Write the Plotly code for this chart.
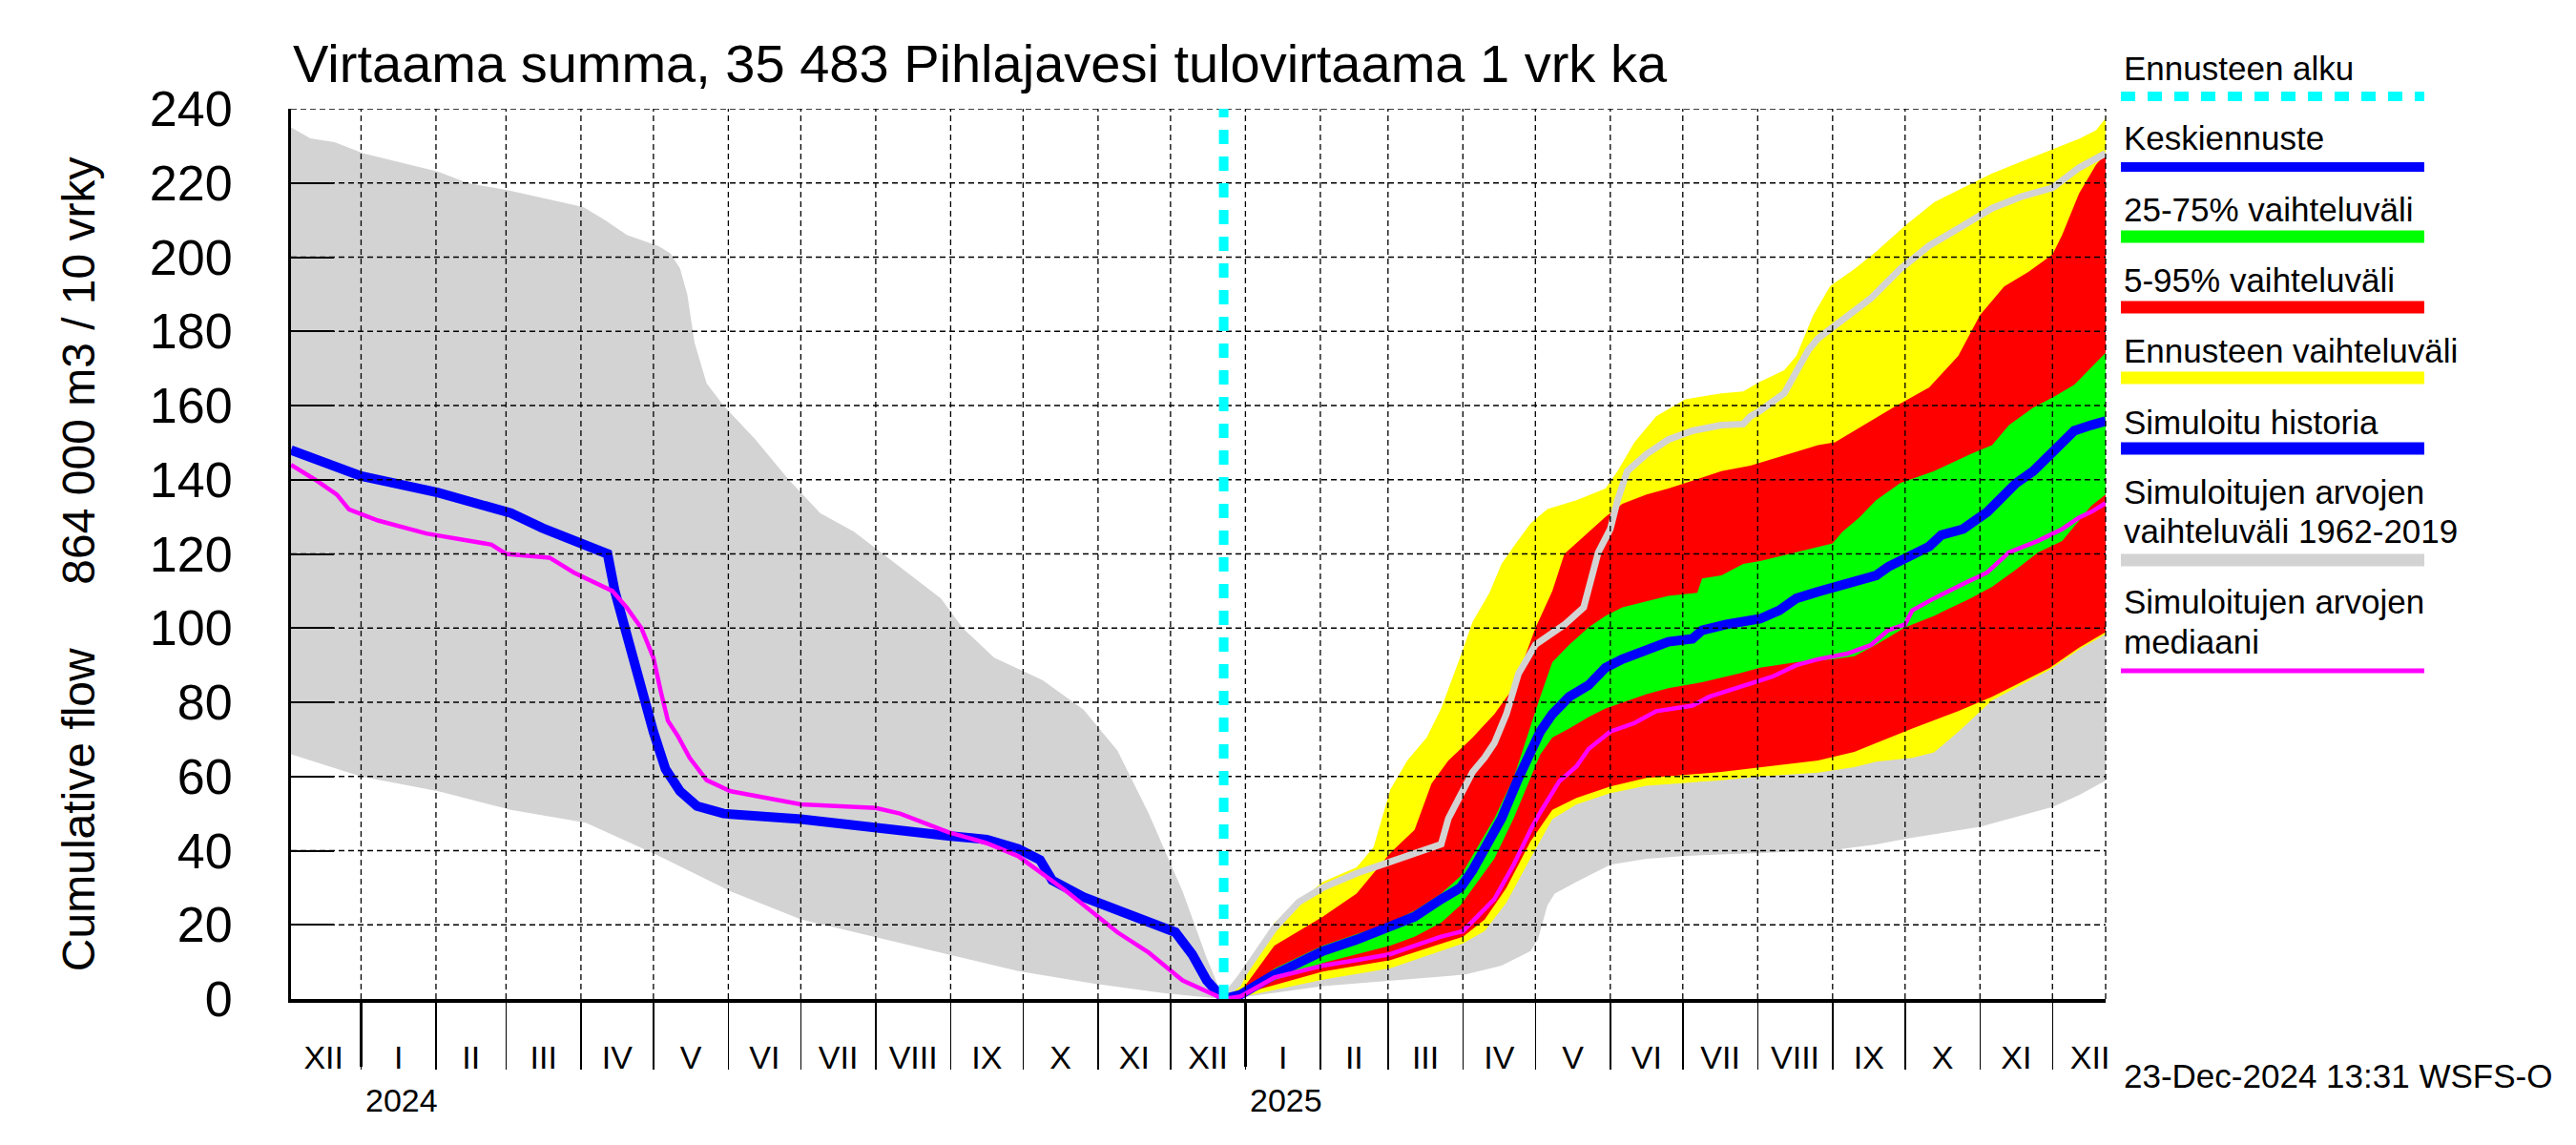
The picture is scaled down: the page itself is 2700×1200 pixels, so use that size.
import plotly.graph_objects as go
import pandas as pd

FORECAST_START = "2024-12-23"
X_START = "2023-12-03"
X_END = "2025-12-23"

TITLE = "Virtaama summa, 35 483 Pihlajavesi tulovirtaama 1 vrk ka"
Y_TITLE = "Cumulative flow" + "\u00a0" * 5 + "864 000 m3 / 10 vrky"
FOOTER = "23-Dec-2024 13:31 WSFS-O"

y_ticks = list(range(0, 241, 20))
roman = ["I", "II", "III", "IV", "V", "VI", "VII", "VIII", "IX", "X", "XI", "XII"]
year_labels = ["2024", "2025"]

# ---------- history (days relative to forecast start) ----------
hist_gray_upper_days = [-386, -378, -368, -356, -325, -313, -296, -265, -256, -247, -234, -229, -225, -222,
                        -219, -214, -207, -194, -180, -167, -153, -141, -117, -108, -95, -75, -58, -44, -31,
                        -17, -7, 0]
hist_gray_upper = [235, 232, 231, 228, 223, 220, 218, 213.5, 210, 206, 203, 201, 197, 190,
                   177, 166, 160, 151, 140, 131, 126, 120, 108, 100, 92, 86, 78, 67, 50,
                   29, 11, 0]

hist_gray_lower_days = [-386, -357, -325, -295, -264, -235, -204, -175, -144, -114, -85, -54, -25, 0]
hist_gray_lower = [66, 60, 56, 51, 47.5, 39, 29, 21.5, 16.5, 12, 7.5, 4.2, 1.6, 0]

hist_blue_days = [-386, -357, -325, -310, -295, -282, -270, -255, -252, -248, -244, -241, -236, -231, -225,
                  -218, -207, -175, -144, -114, -98, -85, -76, -71, -58, -37, -20, -13, -7, 0]
hist_blue = [148, 141, 136.5, 134, 131, 127, 124, 120, 110, 100, 92, 84, 72, 62, 56,
             52, 50, 48.5, 46, 44, 43, 40.5, 37.5, 32, 27.5, 22.5, 18, 12, 5, 0]

hist_mag_days = [-386, -376, -367, -362, -350, -330, -303, -297, -279, -269, -253, -247, -241, -236, -233,
                 -230, -226, -221, -214, -204, -175, -144, -134, -114, -98, -85, -65, -44, -31, -17, 0]
hist_mag = [144, 140, 136, 132, 129, 125.5, 122.5, 120, 119, 115, 110, 105.5, 100, 92, 83,
            75, 71, 65, 59, 56, 52.5, 51.5, 50, 45, 42, 38.5, 29, 18, 12.5, 5, 0]

# ---------- forecast ----------
fc_gray_upper_days = [0, 7, 21, 31, 41, 55, 69, 79, 90, 93, 98, 103, 108, 112, 117, 122, 129, 136, 141, 149,
                      151, 155, 160, 163, 167, 175, 184, 194, 206, 215, 218, 222, 232, 237, 242, 246, 256,
                      268, 280, 292, 306, 318, 330, 343, 354, 365]
fc_gray_upper = [0, 5.8, 19.1, 26.1, 30, 33.9, 37, 39.4, 41.7, 48.7, 55, 61.2, 65.1, 69, 76.8, 87.7, 95.5,
                 98.6, 100.9, 105.6, 111.1, 120.4, 126.7, 134.5, 142.3, 146.9, 150.8, 153.2, 154.7, 155,
                 157.1, 158.6, 163.3, 169.5, 175, 178.1, 182.8, 189, 196.8, 203.1, 208.5, 213.2, 216.3,
                 218.7, 224.1, 228]

fc_gray_lower_days = [0, 7, 41, 69, 100, 115, 127, 130, 134, 137, 146, 160, 175, 191, 222, 252, 270, 283,
                      313, 330, 343, 354, 365]
fc_gray_lower = [0, 0.4, 3.5, 5, 6.6, 9, 12.9, 16, 25.3, 28.4, 31.6, 36.2, 37.8, 38.6, 39.4, 40.1, 41.7,
                 43.3, 46.4, 49.5, 51.8, 55, 58.9]

fc_yellow_upper_days = [0, 7, 21, 41, 55, 62, 69, 76, 84, 90, 98, 103, 110, 115, 120, 127, 134, 146, 158,
                        163, 170, 179, 191, 206, 215, 222, 232, 237, 244, 251, 261, 270, 282, 294, 306,
                        318, 330, 342, 354, 361, 365]
fc_yellow_upper = [0, 3.5, 20.6, 31.6, 35.5, 40.9, 56.5, 64.3, 70.5, 78.3, 92.4, 101.7, 109.5, 117.3, 122,
                   128.2, 132.1, 134.5, 137.6, 142.3, 150.1, 157.1, 161.7, 163.3, 163.8, 166.4, 169.5,
                   173.4, 184.4, 192.2, 196.8, 201.5, 208.5, 214.8, 218.7, 222.6, 225.7, 228.8, 231.9,
                   234.2, 237.4]

fc_lower_days = [0, 7, 41, 69, 99, 108, 117, 127, 136, 146, 160, 175, 206, 222, 246, 261, 270, 285, 294,
                 304, 318, 342, 354, 365]
fc_yellow_lower = [0, 0.5, 5.2, 8.3, 15, 18.3, 26, 38, 48.5, 52.5, 55.5, 57.5, 59, 60, 61, 62.5, 64, 65,
                   66.5, 72, 80.5, 88.8, 94.2, 98.4]
fc_red_lower = [0, 1.2, 7.4, 10.5, 16.8, 21.4, 30, 42.5, 51, 54.2, 57.3, 59.6, 61.2, 62.4, 64.3, 66.6, 69,
                72.9, 75.2, 77.6, 81.5, 89.3, 94.7, 98.9]

fc_red_upper_days = [0, 7, 21, 41, 55, 69, 79, 86, 93, 103, 112, 120, 129, 136, 141, 151, 158, 165, 175,
                     184, 191, 206, 218, 222, 234, 246, 253, 265, 277, 292, 304, 313, 323, 333, 343, 347,
                     354, 361, 365]
fc_red_upper = [0, 1.9, 14.4, 22.2, 28.4, 39.4, 45.6, 58.1, 64.3, 70.5, 76.8, 84, 100, 110, 120,
                126, 130, 133.5, 136, 137.6, 139.1, 142.3, 143.8, 144.6, 146.9, 149.3, 150.1, 154.7,
                159.4, 164.9, 173.4, 184.4, 192.1, 196, 200.7, 206, 217.2, 224.9, 228]

fc_green_upper_days = [0, 7, 21, 41, 55, 69, 79, 90, 98, 105, 112, 120, 127, 131, 136, 143, 151, 158, 165,
                       175, 184, 196, 198, 206, 215, 222, 237, 252, 256, 263, 270, 280, 294, 309, 318, 325,
                       335, 344, 352, 359, 365]
fc_green_upper = [0, 1.6, 8.2, 14.4, 17.5, 20.6, 23.8, 28.4, 33.1, 40.9, 48.7, 59.6, 73.7, 81.5, 90.8,
                  95.5, 100.2, 103.3, 105.6, 107.2, 108.7, 109.5, 113.4, 114.2, 117.3, 118.1, 120.4, 122.8,
                  125.9, 129.8, 134.5, 139.1, 142.3, 146.9, 149.3, 154.7, 159.4, 162.5, 165.6, 170.3, 174.2]

fc_green_lower_days = [0, 7, 21, 41, 55, 69, 79, 90, 98, 105, 112, 120, 127, 131, 136, 143, 151, 158, 165,
                       175, 184, 198, 213, 222, 237, 252, 261, 270, 282, 294, 309, 318, 328, 337, 347, 352,
                       359, 365]
fc_green_lower = [0, 0.8, 5, 9.7, 12.1, 14.4, 16.8, 20.6, 25.3, 31.6, 37.8, 48.7, 59.6, 65.9, 70.5, 72.9,
                  76, 78.3, 79.9, 82.2, 83.8, 85.4, 87.7, 89.3, 90.8, 91.6, 92.4, 95.5, 100.2, 103.3, 108,
                  111.1, 115.8, 120.4, 123.5, 127.4, 132.9, 136]

fc_blue_days = [0, 7, 21, 41, 55, 69, 79, 90, 98, 103, 108, 115, 122, 127, 131, 136, 143, 151, 158, 165,
                175, 184, 194, 198, 208, 215, 222, 230, 237, 246, 253, 261, 270, 275, 285, 292, 297, 306,
                316, 323, 328, 335, 342, 352, 359, 365]
fc_blue = [0, 1.2, 6.6, 12.9, 16, 19.9, 22.2, 26.9, 30, 34.7, 40.9, 48.7, 59.6, 65.9, 72.1, 76.8, 81.5,
           84.6, 89.3, 91.6, 93.9, 96.3, 97.1, 99.4, 101, 101.7, 102.5, 104.8, 108, 109.8, 111.1, 112.6,
           114.2, 116.5, 119.6, 122, 125.1, 126.7, 131.3, 136, 139.1, 142.3, 146.9, 153.2, 154.7, 155.8]

fc_mag_days = [0, 7, 21, 41, 55, 69, 79, 90, 99, 105, 112, 120, 127, 131, 139, 146, 151, 160, 170, 179,
               194, 201, 208, 215, 227, 237, 246, 258, 268, 275, 282, 285, 294, 306, 316, 325, 337, 347,
               354, 359, 365]
fc_mag = [0, 0.7, 5.8, 9, 10.5, 12.1, 14.4, 16.8, 18.3, 22.2, 26.9, 36.2, 45.6, 50.3, 58.8, 62.7, 67.4,
          72.1, 74.4, 77.6, 79.1, 81.5, 83, 84.6, 86.9, 90, 91.6, 93.1, 95.5, 99.4, 101, 104.8, 108, 111.9,
          115, 120.4, 123.5, 126.7, 129.8, 131.3, 133.7]

# ---------- helpers ----------
T0 = pd.Timestamp(FORECAST_START)


def dates(days):
    return [T0 + pd.Timedelta(days=d) for d in days]


def band(up_days, up_vals, lo_days, lo_vals):
    xs = dates(up_days) + dates(lo_days)[::-1]
    ys = list(up_vals) + list(lo_vals)[::-1]
    return xs, ys


FONT = "Liberation Sans, Arial, Helvetica, sans-serif"
GRAY = "#d3d3d3"
YELLOW = "#ffff00"
RED = "#ff0000"
GREEN = "#00ff00"
BLUE = "#0000ff"
MAGENTA = "#ff00ff"
CYAN = "#00ffff"

fig = go.Figure()

# gray band (history + forecast)
gx, gy = band(hist_gray_upper_days + fc_gray_upper_days[1:], hist_gray_upper + fc_gray_upper[1:],
              hist_gray_lower_days + fc_gray_lower_days[1:], hist_gray_lower + fc_gray_lower[1:])
fig.add_trace(go.Scatter(x=gx, y=gy, fill="toself", fillcolor=GRAY, line=dict(width=0), mode="lines",
                         hoverinfo="skip", showlegend=False))

for up_d, up_v, lo_d, lo_v, col in [
    (fc_yellow_upper_days, fc_yellow_upper, fc_lower_days, fc_yellow_lower, YELLOW),
    (fc_red_upper_days, fc_red_upper, fc_lower_days, fc_red_lower, RED),
    (fc_green_upper_days, fc_green_upper, fc_green_lower_days, fc_green_lower, GREEN),
]:
    bx, by = band(up_d, up_v, lo_d, lo_v)
    fig.add_trace(go.Scatter(x=bx, y=by, fill="toself", fillcolor=col, line=dict(width=0), mode="lines",
                             hoverinfo="skip", showlegend=False))

# gray line (upper of simulated range in forecast period)
fig.add_trace(go.Scatter(x=dates(fc_gray_upper_days), y=fc_gray_upper, mode="lines",
                         line=dict(color=GRAY, width=7), hoverinfo="skip", showlegend=False))
# blue lines
fig.add_trace(go.Scatter(x=dates(hist_blue_days), y=hist_blue, mode="lines",
                         line=dict(color=BLUE, width=10), hoverinfo="skip", showlegend=False))
fig.add_trace(go.Scatter(x=dates(fc_blue_days), y=fc_blue, mode="lines",
                         line=dict(color=BLUE, width=10), hoverinfo="skip", showlegend=False))
# magenta lines
fig.add_trace(go.Scatter(x=dates(hist_mag_days), y=hist_mag, mode="lines",
                         line=dict(color=MAGENTA, width=4.5), hoverinfo="skip", showlegend=False))
fig.add_trace(go.Scatter(x=dates(fc_mag_days), y=fc_mag, mode="lines",
                         line=dict(color=MAGENTA, width=4.5), hoverinfo="skip", showlegend=False))

# dummy traces for overlay axes
for ax in ["x2", "x3"]:
    fig.add_trace(go.Scatter(x=[pd.Timestamp(X_START)], y=[0], xaxis=ax, yaxis="y", mode="markers",
                             marker=dict(opacity=0, size=1), hoverinfo="skip", showlegend=False))

# ---------- axes ----------
month_starts = list(pd.date_range("2024-01-01", "2025-12-01", freq="MS"))
label_months = list(pd.date_range("2023-12-01", "2025-12-01", freq="MS"))
label_pos = [m + pd.Timedelta(days=m.days_in_month / 2.0) for m in label_months]
label_txt = [roman[m.month - 1] for m in label_months]
jan_starts = [m for m in month_starts if m.month == 1]

xr = [X_START, X_END]
fig.update_layout(
    width=2700, height=1200,
    margin=dict(l=305, r=493, t=114, b=153, pad=0),
    template="none",
    paper_bgcolor="white", plot_bgcolor="white",
    font=dict(family=FONT, color="black"),
    showlegend=False,
    xaxis=dict(type="date", range=xr, tickmode="array", tickvals=month_starts, showticklabels=False,
               ticks="outside", ticklen=70, tickwidth=1.5, tickcolor="black",
               showline=True, linewidth=4, linecolor="black", showgrid=False, zeroline=False,
               layer="above traces", automargin=False),
    xaxis2=dict(type="date", range=xr, overlaying="x", anchor="y", side="bottom", tickmode="array",
                tickvals=label_pos, ticktext=label_txt, ticks="", showline=False, showgrid=False,
                zeroline=False, tickfont=dict(size=34, family=FONT, color="black"),
                ticklabelstandoff=38, automargin=False),
    xaxis3=dict(type="date", range=xr, overlaying="x", anchor="y", side="bottom", tickmode="array",
                tickvals=jan_starts, showticklabels=False, ticks="outside", ticklen=70, tickwidth=3.5,
                tickcolor="black", showline=False, showgrid=False, zeroline=False, automargin=False),
    yaxis=dict(range=[0, 240], tickmode="array", tickvals=y_ticks, ticks="inside", ticklen=45,
               tickwidth=2, tickcolor="black", showline=True, linewidth=3, linecolor="black",
               showgrid=False, zeroline=False, tickfont=dict(size=52, family=FONT, color="black"),
               ticklabelstandoff=48, layer="above traces", automargin=False),
)

shapes = []
GRID = dict(color="black", width=1.3, dash="6px,4px")
for v in y_ticks[1:]:
    shapes.append(dict(type="line", xref="paper", yref="y", x0=0, x1=1, y0=v, y1=v, line=GRID, layer="above"))
for m in month_starts:
    shapes.append(dict(type="line", xref="x", yref="paper", x0=m, x1=m, y0=0, y1=1, line=GRID, layer="above"))
shapes.append(dict(type="line", xref="paper", yref="paper", x0=1, x1=1, y0=0, y1=1, line=GRID, layer="above"))
# forecast start
shapes.append(dict(type="line", xref="x", yref="paper", x0=T0, x1=T0, y0=0, y1=1,
                   line=dict(color=CYAN, width=10, dash="15px,13px"), layer="above"))

annotations = []
# title
annotations.append(dict(text=TITLE, xref="paper", yref="paper", x=0, y=1.0504, xanchor="left",
                        yanchor="middle", showarrow=False, font=dict(size=56, family=FONT, color="black")))
# y title
annotations.append(dict(text=Y_TITLE, xref="paper", yref="paper", x=-0.1172, y=0.4887, textangle=-90,
                        xanchor="center", yanchor="middle", showarrow=False,
                        font=dict(size=48, family=FONT, color="black")))
# years
for yl, j in zip(year_labels, jan_starts):
    annotations.append(dict(text=yl, xref="x", yref="paper", x=j, y=-0.1136, xanchor="left", xshift=3,
                            yanchor="middle", showarrow=False, font=dict(size=34, family=FONT, color="black")))
# footer
annotations.append(dict(text=FOOTER, xref="paper", yref="paper", x=1.0089, y=-0.0868, xanchor="left",
                        yanchor="middle", showarrow=False, font=dict(size=35, family=FONT, color="black")))

# legend (manual)
LX0, LX1, TX = 1.0084, 1.1756, 1.0089
legend_items = [
    (["Ennusteen alku"], [1.0456], 1.0139, CYAN, 10, "15px,13px"),
    (["Keskiennuste"], [0.9668], 0.9346, BLUE, 10, "solid"),
    (["25-75% vaihteluväli"], [0.8864], 0.8564, GREEN, 13, "solid"),
    (["5-95% vaihteluväli"], [0.8071], 0.7771, RED, 13, "solid"),
    (["Ennusteen vaihteluväli"], [0.7278], 0.6977, YELLOW, 13, "solid"),
    (["Simuloitu historia"], [0.6484], 0.6184, BLUE, 13, "solid"),
    (["Simuloitujen arvojen", "vaihteluväli 1962-2019"], [0.5702, 0.5252], 0.4930, GRAY, 13, "solid"),
    (["Simuloitujen arvojen", "mediaani"], [0.4459, 0.4009], 0.3687, MAGENTA, 5, "solid"),
]
for texts, tys, ly, col, w, dash in legend_items:
    for t, ty in zip(texts, tys):
        annotations.append(dict(text=t, xref="paper", yref="paper", x=TX, y=ty, xanchor="left",
                                yanchor="middle", showarrow=False,
                                font=dict(size=35, family=FONT, color="black")))
    shapes.append(dict(type="line", xref="paper", yref="paper", x0=LX0, x1=LX1, y0=ly, y1=ly,
                       line=dict(color=col, width=w, dash=dash)))

fig.update_layout(shapes=shapes, annotations=annotations)

fig.write_html("out.html", config={"displayModeBar": False, "staticPlot": True},
               post_script="document.body.style.margin='0';document.body.style.overflow='hidden';")
